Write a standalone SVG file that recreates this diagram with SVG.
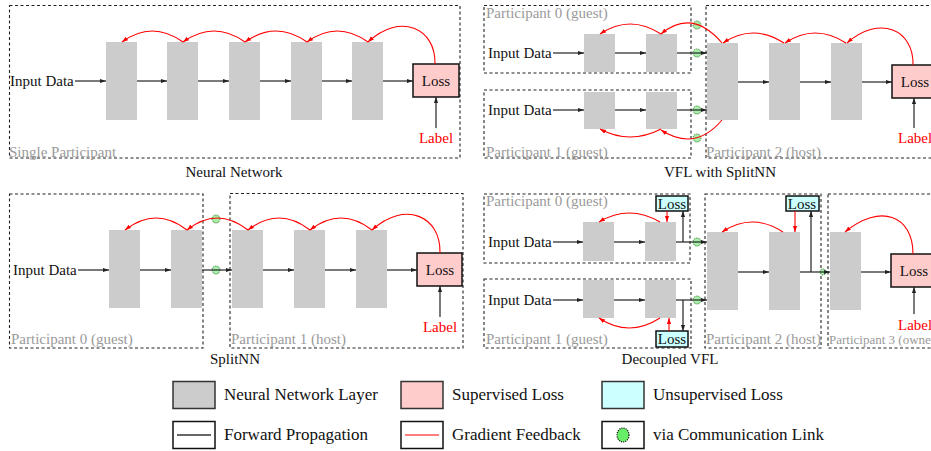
<svg xmlns="http://www.w3.org/2000/svg" width="931" height="451" viewBox="0 0 931 451">
<defs>
  <marker id="ah" viewBox="0 0 6 6" refX="6" refY="3" markerWidth="6" markerHeight="6" markerUnits="userSpaceOnUse" orient="auto">
    <path d="M0,0.9 L6,3 L0,5.1 z" fill="#222"/>
  </marker>
  <marker id="rh" viewBox="0 0 6 6" refX="6" refY="3" markerWidth="6" markerHeight="6" markerUnits="userSpaceOnUse" orient="auto">
    <path d="M0,0.9 L6,3 L0,5.1 z" fill="#f00"/>
  </marker>
</defs>
<style>
  text { font-family: "Liberation Serif", "Times New Roman", serif; font-size: 15px; fill: #111; }
  .gray { fill: #9a9a9a; }
  .red { fill: #f00; }
  .mid { text-anchor: middle; }
  .small { font-size: 13px; }
  .leg { font-size: 17px; }
  .zone { fill: none; stroke: #222; stroke-width: 1.1; stroke-dasharray: 3 2.5; }
  .layer { fill: #cccccc; }
  .loss { fill: #ffcccc; stroke: #111; stroke-width: 1.5; }
  .uloss { fill: #ccffff; stroke: #111; stroke-width: 1.5; }
  .link { fill: #a8eea8; stroke: #2f6f2f; stroke-width: 0.9; stroke-dasharray: 1.2 1; }
  .fwd { fill: none; stroke: #222; stroke-width: 1.2; marker-end: url(#ah); }
  .grad { fill: none; stroke: #f00; stroke-width: 1.1; marker-end: url(#rh); }
  .lbox { stroke: #333; stroke-width: 1.5; }
</style>

<!-- ===== Panel: Neural Network ===== -->
<g id="nn-zone"><rect class="zone" x="9.5" y="5.5" width="450.5" height="152.5"/><text class="gray" x="9" y="157">Single Participant</text></g>
<g id="nn-input"><text x="10" y="86">Input Data</text></g>
<g id="nn-l1"><rect class="layer" x="106" y="42" width="31" height="78"/></g>
<g id="nn-l2"><rect class="layer" x="167" y="42" width="31" height="78"/></g>
<g id="nn-l3"><rect class="layer" x="229" y="42" width="31" height="78"/></g>
<g id="nn-l4"><rect class="layer" x="291" y="42" width="31" height="78"/></g>
<g id="nn-l5"><rect class="layer" x="352" y="42" width="31" height="78"/></g>
<g id="nn-loss"><rect class="loss" x="413" y="64" width="46" height="33"/><text class="mid" x="436" y="86">Loss</text></g>
<g id="nn-label"><text class="red mid" x="436" y="143">Label</text></g>
<g id="nn-title"><text class="mid" x="234" y="177">Neural Network</text></g>

<!-- ===== Panel: VFL with SplitNN ===== -->
<g id="vfl-p0"><rect class="zone" x="484" y="5.5" width="207" height="67.5"/><text class="gray" x="486" y="18">Participant 0 (guest)</text></g>
<g id="vfl-p1"><rect class="zone" x="484" y="90" width="207" height="68"/><text class="gray" x="486" y="157">Participant 1 (guest)</text></g>
<g id="vfl-p2"><rect class="zone" x="706" y="5.5" width="240" height="152.5"/><text class="gray" x="706" y="157">Participant 2 (host)</text></g>
<g id="vfl-input0"><text x="488" y="58">Input Data</text></g>
<g id="vfl-input1"><text x="488" y="115">Input Data</text></g>
<g id="vfl-p0-l1"><rect class="layer" x="584" y="34" width="31" height="38"/></g>
<g id="vfl-p0-l2"><rect class="layer" x="646" y="34" width="31" height="38"/></g>
<g id="vfl-p1-l1"><rect class="layer" x="584" y="92" width="31" height="37"/></g>
<g id="vfl-p1-l2"><rect class="layer" x="646" y="92" width="31" height="37"/></g>
<g id="vfl-p2-l1"><rect class="layer" x="707" y="43" width="31" height="77"/></g>
<g id="vfl-p2-l2"><rect class="layer" x="769" y="43" width="31" height="77"/></g>
<g id="vfl-p2-l3"><rect class="layer" x="831" y="43" width="31" height="77"/></g>
<g id="vfl-loss"><rect class="loss" x="892" y="65" width="46" height="33"/><text class="mid" x="915" y="87">Loss</text></g>
<g id="vfl-label"><text class="red" x="898" y="143">Label</text></g>
<g id="vfl-title"><text class="mid" x="720" y="177">VFL with SplitNN</text></g>

<!-- ===== Panel: SplitNN ===== -->
<g id="sp-p0"><rect class="zone" x="9.5" y="194" width="193.5" height="154"/><text class="gray" x="11" y="344">Participant 0 (guest)</text></g>
<g id="sp-p1"><rect class="zone" x="230" y="193.5" width="233" height="154.5"/><text class="gray" x="231" y="344">Participant 1 (host)</text></g>
<g id="sp-input"><text x="13" y="275">Input Data</text></g>
<g id="sp-l1"><rect class="layer" x="109" y="230" width="31" height="78"/></g>
<g id="sp-l2"><rect class="layer" x="171" y="230" width="31" height="78"/></g>
<g id="sp-l3"><rect class="layer" x="232" y="230" width="31" height="78"/></g>
<g id="sp-l4"><rect class="layer" x="294" y="230" width="31" height="78"/></g>
<g id="sp-l5"><rect class="layer" x="356" y="230" width="31" height="78"/></g>
<g id="sp-loss"><rect class="loss" x="417" y="253" width="45" height="33"/><text class="mid" x="440" y="275">Loss</text></g>
<g id="sp-label"><text class="red mid" x="440" y="332">Label</text></g>
<g id="sp-title"><text class="mid" x="235" y="364">SplitNN</text></g>

<!-- ===== Panel: Decoupled VFL ===== -->
<g id="dv-p0"><rect class="zone" x="484" y="194" width="206" height="69"/><text class="gray" x="486" y="206">Participant 0 (guest)</text></g>
<g id="dv-p1"><rect class="zone" x="484" y="279" width="207" height="69"/><text class="gray" x="486" y="344">Participant 1 (guest)</text></g>
<g id="dv-p2"><rect class="zone" x="705" y="194" width="116" height="154"/><text class="gray" x="706" y="344">Participant 2 (host)</text></g>
<g id="dv-p3"><rect class="zone" x="828" y="194" width="120" height="154"/><text class="gray small" x="829" y="344">Participant 3 (owner)</text></g>
<g id="dv-input0"><text x="488" y="247">Input Data</text></g>
<g id="dv-input1"><text x="488" y="305">Input Data</text></g>
<g id="dv-p0-l1"><rect class="layer" x="583" y="222" width="31" height="39"/></g>
<g id="dv-p0-l2"><rect class="layer" x="645" y="222" width="31" height="39"/></g>
<g id="dv-p1-l1"><rect class="layer" x="583" y="280" width="31" height="38"/></g>
<g id="dv-p1-l2"><rect class="layer" x="645" y="280" width="31" height="38"/></g>
<g id="dv-p2-l1"><rect class="layer" x="707" y="232" width="31" height="78"/></g>
<g id="dv-p2-l2"><rect class="layer" x="769" y="232" width="31" height="78"/></g>
<g id="dv-p3-l1"><rect class="layer" x="830" y="232" width="31" height="78"/></g>
<g id="dv-p0-uloss"><rect class="uloss" x="656" y="196" width="32" height="15"/><text class="mid" x="672" y="209">Loss</text></g>
<g id="dv-p1-uloss"><rect class="uloss" x="656" y="331" width="32" height="16"/><text class="mid" x="672" y="344">Loss</text></g>
<g id="dv-p2-uloss"><rect class="uloss" x="786" y="196" width="33" height="15"/><text class="mid" x="802" y="209">Loss</text></g>
<g id="dv-loss"><rect class="loss" x="891" y="254" width="46" height="33"/><text class="mid" x="914" y="276">Loss</text></g>
<g id="dv-label"><text class="red" x="898" y="330">Label</text></g>
<g id="dv-title"><text class="mid" x="670" y="364">Decoupled VFL</text></g>

<!-- communication links -->
<g id="links">
  <circle class="link" cx="697" cy="25" r="4"/>
  <circle class="link" cx="697" cy="53" r="4"/>
  <circle class="link" cx="697" cy="110" r="4"/>
  <circle class="link" cx="697" cy="138" r="4"/>
  <circle class="link" cx="216" cy="219" r="4"/>
  <circle class="link" cx="216" cy="270" r="4"/>
  <circle class="link" cx="697" cy="242" r="4"/>
  <circle class="link" cx="697" cy="300" r="4"/>
  <circle class="link" cx="823" cy="272" r="3"/>
</g>

<g id="connectors">
  <!-- Neural Network: forward -->
  <path class="fwd" d="M75,81 H106"/>
  <path class="fwd" d="M137,81 H167"/>
  <path class="fwd" d="M198,81 H229"/>
  <path class="fwd" d="M260,81 H291"/>
  <path class="fwd" d="M322,81 H352"/>
  <path class="fwd" d="M383,81 H413"/>
  <path class="fwd" d="M436,128 V97"/>
  <!-- Neural Network: gradients -->
  <path class="grad" d="M435,64 C436,28 400,12 368,42"/>
  <path class="grad" d="M368,42 Q337,20 307,42"/>
  <path class="grad" d="M307,42 Q276,20 245,42"/>
  <path class="grad" d="M245,42 Q214,20 183,42"/>
  <path class="grad" d="M183,42 Q152,20 122,42"/>

  <!-- VFL with SplitNN: forward -->
  <path class="fwd" d="M553,53 H584"/>
  <path class="fwd" d="M615,53 H646"/>
  <path class="fwd" d="M677,53 H707"/>
  <path class="fwd" d="M553,110 H584"/>
  <path class="fwd" d="M615,110 H646"/>
  <path class="fwd" d="M677,110 H707"/>
  <path class="fwd" d="M738,82 H769"/>
  <path class="fwd" d="M800,82 H831"/>
  <path class="fwd" d="M862,82 H892"/>
  <path class="fwd" d="M914,128 V98"/>
  <!-- VFL with SplitNN: gradients -->
  <path class="grad" d="M913,65 C914,30 880,14 847,43"/>
  <path class="grad" d="M846,43 Q815,23 785,43"/>
  <path class="grad" d="M784,43 Q753,23 723,43"/>
  <path class="grad" d="M722,43 Q692,8 661,34"/>
  <path class="grad" d="M722,120 Q695,152 661,130"/>
  <path class="grad" d="M661,34 Q630,14 600,34"/>
  <path class="grad" d="M661,129 Q630,145 600,129"/>

  <!-- SplitNN: forward -->
  <path class="fwd" d="M78,270 H109"/>
  <path class="fwd" d="M140,270 H171"/>
  <path class="fwd" d="M202,270 H232"/>
  <path class="fwd" d="M263,270 H294"/>
  <path class="fwd" d="M325,270 H356"/>
  <path class="fwd" d="M387,270 H417"/>
  <path class="fwd" d="M440,317 V286"/>
  <!-- SplitNN: gradients -->
  <path class="grad" d="M440,253 C441,216 405,200 372,230"/>
  <path class="grad" d="M372,230 Q341,206 310,230"/>
  <path class="grad" d="M310,230 Q279,206 248,230"/>
  <path class="grad" d="M248,230 Q217,206 187,230"/>
  <path class="grad" d="M187,230 Q156,206 125,230"/>

  <!-- Decoupled VFL: forward -->
  <path class="fwd" d="M553,242 H583"/>
  <path class="fwd" d="M614,242 H645"/>
  <path class="fwd" d="M676,242 H707"/>
  <path class="fwd" d="M553,300 H583"/>
  <path class="fwd" d="M614,300 H645"/>
  <path class="fwd" d="M676,300 H707"/>
  <path class="fwd" d="M683,242 V211"/>
  <path class="fwd" d="M683,300 V331"/>
  <path class="fwd" d="M738,272 H769"/>
  <path class="fwd" d="M800,272 H830"/>
  <path class="fwd" d="M811,272 V211"/>
  <path class="fwd" d="M861,272 H891"/>
  <path class="fwd" d="M914,314 V287"/>
  <!-- Decoupled VFL: gradients -->
  <path class="grad" d="M667,211 V222"/>
  <path class="grad" d="M669,331 V318"/>
  <path class="grad" d="M795,211 V232"/>
  <path class="grad" d="M660,222 Q629,204 599,222"/>
  <path class="grad" d="M660,318 Q629,338 599,318"/>
  <path class="grad" d="M783,232 Q752,212 722,232"/>
  <path class="grad" d="M913,254 C913,215 880,203 845,232"/>
</g>

<!-- legend -->
<g id="legend">
  <rect class="lbox" x="173" y="381.5" width="42" height="27" fill="#cccccc"/>
  <text class="leg" x="224" y="400">Neural Network Layer</text>
  <rect class="lbox" x="401" y="381.5" width="42" height="27" fill="#ffcccc"/>
  <text class="leg" x="452" y="400">Supervised Loss</text>
  <rect class="lbox" x="602" y="381.5" width="42" height="27" fill="#ccffff"/>
  <text class="leg" x="653" y="400">Unsupervised Loss</text>
  <rect x="173" y="421.5" width="42" height="27" fill="#fff" stroke="#111" stroke-width="1.5"/>
  <line x1="177" y1="435" x2="211" y2="435" stroke="#333" stroke-width="1.5"/>
  <text class="leg" x="224" y="440">Forward Propagation</text>
  <rect x="401" y="421.5" width="42" height="27" fill="#fff" stroke="#111" stroke-width="1.5"/>
  <line x1="405" y1="435" x2="439" y2="435" stroke="#f55" stroke-width="1.5"/>
  <text class="leg" x="452" y="440">Gradient Feedback</text>
  <rect x="602" y="421.5" width="42" height="27" fill="#fff" stroke="#111" stroke-width="1.5"/>
  <ellipse cx="623" cy="435" rx="6" ry="7" fill="#66ee66" stroke="#111" stroke-width="1.2" stroke-dasharray="1.2 1"/>
  <text class="leg" x="653" y="440">via Communication Link</text>
</g>
</svg>
